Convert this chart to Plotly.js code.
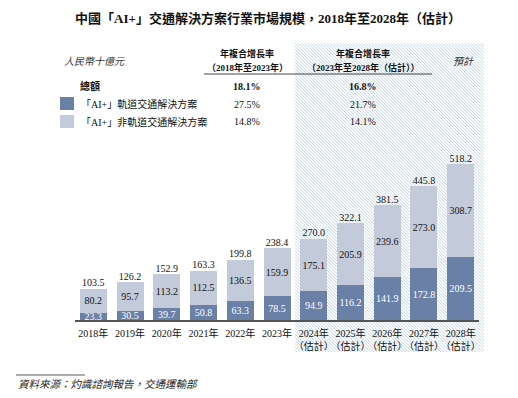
<!DOCTYPE html>
<html>
<head>
<meta charset="utf-8">
<script src="https://cdn.plot.ly/plotly-3.0.1.min.js"></script>
<style>html,body{margin:0;padding:0;background:#fff;}#chart{width:518px;height:398px;}</style>
</head>
<body>
<div id="chart"></div>
<script>
// ---- data ----
const years = ["2018年","2019年","2020年","2021年","2022年","2023年","2024年<br>（估計）","2025年<br>（估計）","2026年<br>（估計）","2027年<br>（估計）","2028年<br>（估計）"];
const railValues = [23.3, 30.5, 39.7, 50.8, 63.3, 78.5, 94.9, 116.2, 141.9, 172.8, 209.5];
const nonRailValues = [80.2, 95.7, 113.2, 112.5, 136.5, 159.9, 175.1, 205.9, 239.6, 273.0, 308.7];
const totalValues = [103.5, 126.2, 152.9, 163.3, 199.8, 238.4, 270.0, 322.1, 381.5, 445.8, 518.2];
const seriesNames = ["「AI+」軌道交通解決方案", "「AI+」非軌道交通解決方案"];
const cagrHist = ["18.1%", "27.5%", "14.8%"];
const cagrFcst = ["16.8%", "21.7%", "14.1%"];

// ---- layout helpers (pixel -> paper) ----
const W = 518, H = 398;
const M = {l: 75, r: 39, t: 140, b: 78};
const PW = W - M.l - M.r, PH = H - M.t - M.b;
const px = x => (x - M.l) / PW;
const py = y => (H - M.b - y) / PH;

const serif = "Liberation Serif, Noto Sans CJK TC, serif";
const DARK = "#6a80a6", LIGHT = "#c3cbdb";

// hatch background for forecast area
function hatchPath(x0, y0, x1, y1, s) {
  let d = "";
  for (let c = y0 - x1; c <= y1 - x0; c += s) {
    const xa = Math.max(x0, y0 - c), xb = Math.min(x1, y1 - c);
    if (xb <= xa) continue;
    d += `M${px(xa).toFixed(5)},${py(xa + c).toFixed(5)}L${px(xb).toFixed(5)},${py(xb + c).toFixed(5)}`;
  }
  return d;
}

const shapes = [
  {type: "path", xref: "paper", yref: "paper", path: hatchPath(295, 43, 484, 352, 3.2),
   line: {color: "#bcd2e4", width: 0.9}, layer: "below"},
  {type: "line", xref: "paper", yref: "paper", x0: px(204), x1: px(432), y0: py(74), y1: py(74),
   line: {color: "#444", width: 1}},
  {type: "rect", xref: "paper", yref: "paper", x0: px(60), x1: px(74), y0: py(97), y1: py(110),
   fillcolor: DARK, line: {width: 0}},
  {type: "rect", xref: "paper", yref: "paper", x0: px(60), x1: px(74), y0: py(115), y1: py(128),
   fillcolor: LIGHT, line: {width: 0}},
  {type: "line", xref: "paper", yref: "paper", x0: px(16), x1: px(85), y0: py(375), y1: py(375),
   line: {color: "#333", width: 0.8}}
];

function ann(text, x, y, opts) {
  return Object.assign({text: text, xref: "paper", yref: "paper", x: px(x), y: py(y),
    showarrow: false, xanchor: "center", yanchor: "middle",
    font: {family: serif, size: 10, color: "#111"}}, opts || {});
}

const annotations = [
  ann("<i>人民幣十億元</i>", 62, 61, {xanchor: "left", font: {family: serif, size: 10, color: "#333"}}),
  ann("<b>年複合增長率</b>", 247, 54, {font: {family: serif, size: 9, color: "#111"}}),
  ann("<b>（2018年至2023年）</b>", 247, 67, {font: {family: serif, size: 9, color: "#111"}}),
  ann("<b>年複合增長率</b>", 363, 54, {font: {family: serif, size: 9, color: "#111"}}),
  ann("<b>（2023年至2028年（估計））</b>", 363, 67, {font: {family: serif, size: 9, color: "#111"}}),
  ann("<i>預計</i>", 463, 61, {font: {family: serif, size: 10, color: "#333"}}),
  ann("<b>總額</b>", 78, 86, {xanchor: "left"}),
  ann("<b>" + cagrHist[0] + "</b>", 247, 86),
  ann("<b>" + cagrFcst[0] + "</b>", 363, 86),
  ann(seriesNames[0], 79, 104, {xanchor: "left"}),
  ann(cagrHist[1], 247, 104),
  ann(cagrFcst[1], 363, 104),
  ann(seriesNames[1], 79, 122, {xanchor: "left"}),
  ann(cagrHist[2], 247, 122),
  ann(cagrFcst[2], 363, 122),
  ann("<i>資料來源：灼識諮詢報告，交通運輸部</i>", 16, 384, {xanchor: "left", font: {family: serif, size: 10.5, color: "#222"}})
];

const traces = [
  {type: "bar", x: years, y: railValues, name: seriesNames[0],
   marker: {color: DARK}, text: railValues.map(v => v.toFixed(1)),
   textposition: "inside", insidetextanchor: "middle", textangle: 0,
   textfont: {family: serif, size: 10, color: "#fff"}, hoverinfo: "skip"},
  {type: "bar", x: years, y: nonRailValues, name: seriesNames[1],
   marker: {color: LIGHT}, text: nonRailValues.map(v => v.toFixed(1)),
   textposition: "inside", insidetextanchor: "middle", textangle: 0,
   textfont: {family: serif, size: 10, color: "#111"}, hoverinfo: "skip"},
  {type: "scatter", mode: "text", x: years, y: totalValues,
   text: totalValues.map(v => v.toFixed(1)), textposition: "top center",
   textfont: {family: serif, size: 10, color: "#111"}, cliponaxis: false, hoverinfo: "skip"}
];

const layout = {
  width: W, height: H, margin: M,
  paper_bgcolor: "#fff", plot_bgcolor: "rgba(0,0,0,0)",
  title: {text: "<b>中國「AI+」交通解決方案行業市場規模，2018年至2028年（估計）</b>",
          xref: "container", yref: "container", x: 268 / W, y: 1 - 18 / H,
          xanchor: "center", yanchor: "middle",
          font: {family: serif, size: 13, color: "#111"}},
  barmode: "stack", bargap: 0.265, showlegend: false,
  uniformtext: {minsize: 10, mode: "show"},
  xaxis: {type: "category", range: [-0.5, 10.5], showline: true, linecolor: "#555", linewidth: 1.5,
          ticks: "", showgrid: false, zeroline: false, fixedrange: true, tickangle: 0, automargin: false,
          ticklabelstandoff: 3,
          tickfont: {family: serif, size: 10, color: "#111"}},
  yaxis: {range: [0, 599], visible: false, fixedrange: true},
  shapes: shapes, annotations: annotations
};

Plotly.newPlot("chart", traces, layout, {displayModeBar: false, staticPlot: true});
</script>
</body>
</html>
